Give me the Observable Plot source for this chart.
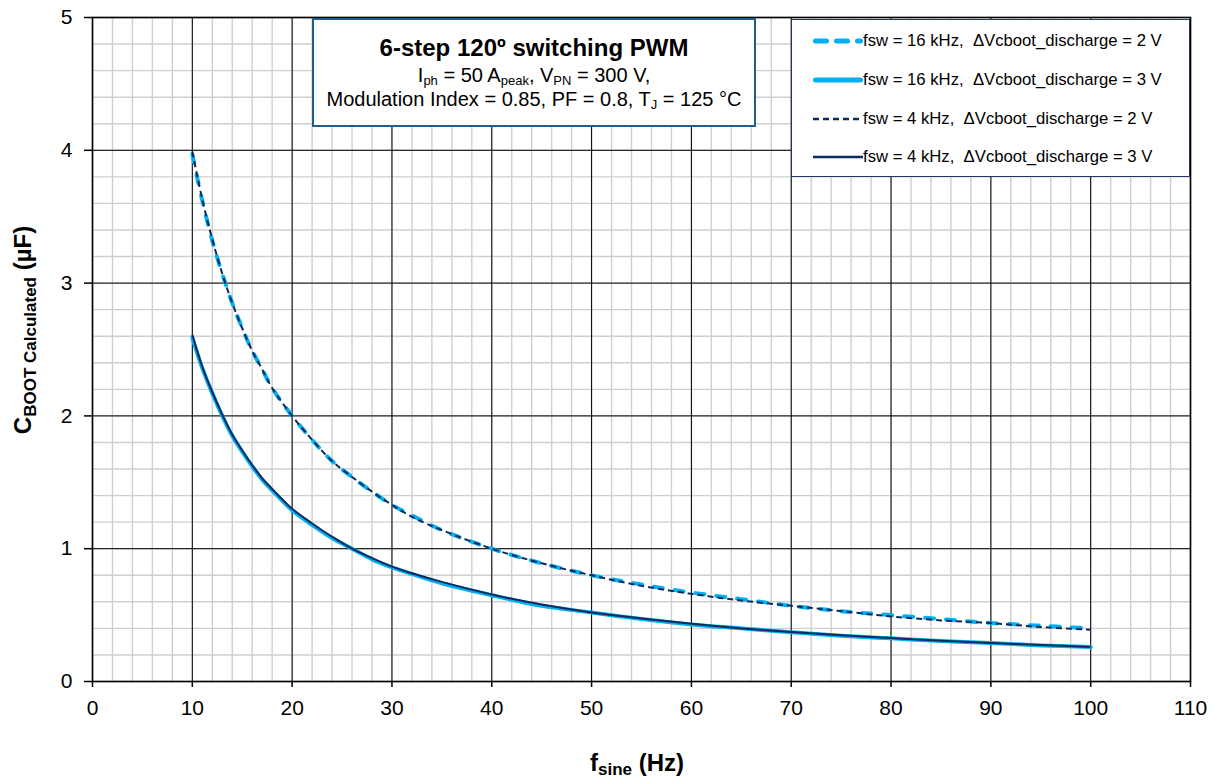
<!DOCTYPE html>
<html><head><meta charset="utf-8">
<script src="https://cdn.jsdelivr.net/npm/d3@7"></script>
<script src="https://cdn.jsdelivr.net/npm/@observablehq/plot@0.6"></script>
<style>
body{margin:0;background:#fff;font-family:"Liberation Sans",Arial,sans-serif;}
#wrap{position:relative;width:1225px;height:781px;}
.box{position:absolute;background:#fff;box-sizing:border-box;}
#note{left:312px;top:18px;width:444px;height:109px;border:2px solid #1f5f8f;text-align:center;color:#000;}
#note .t{font-weight:bold;font-size:24px;margin-top:14px;line-height:27px;margin-bottom:2.5px;}
#note .l{font-size:20px;line-height:22px;white-space:pre;}
#note .l3{margin-top:2px;}
#note sub{font-size:13px;vertical-align:baseline;position:relative;top:3px;line-height:0;}
#legend{left:791px;top:19px;width:399px;height:158px;border:1.5px solid #1f3864;}
.row{position:absolute;left:21px;height:20px;display:flex;align-items:center;font-size:16.7px;color:#000;white-space:pre;}
.row svg{margin-right:0px;display:block;}
</style></head>
<body><div id="wrap"></div>
<script>
const freq = [10,11,12,13,14,15,16,17,18,20,22,24,26,28,30,32,35,40,45,50,55,60,65,70,75,80,85,90,95,100];
const c16k2V = [3.97,3.62,3.32,3.07,2.85,2.66,2.49,2.35,2.21,2.00,1.82,1.66,1.54,1.43,1.33,1.25,1.14,1.00,0.89,0.80,0.73,0.67,0.62,0.57,0.53,0.50,0.47,0.44,0.42,0.40];
const c16k3V = [2.59,2.36,2.17,2.00,1.85,1.73,1.62,1.52,1.44,1.29,1.18,1.08,1.00,0.92,0.86,0.81,0.74,0.65,0.57,0.52,0.47,0.43,0.40,0.37,0.345,0.325,0.305,0.29,0.272,0.26];
const c4k2V  = [3.99,3.63,3.33,3.07,2.85,2.66,2.49,2.35,2.21,2.00,1.82,1.66,1.54,1.43,1.33,1.24,1.14,1.00,0.89,0.80,0.72,0.66,0.61,0.57,0.53,0.49,0.46,0.44,0.41,0.39];
const c4k3V  = [2.61,2.37,2.18,2.01,1.86,1.74,1.63,1.53,1.45,1.30,1.19,1.09,1.00,0.93,0.865,0.815,0.75,0.655,0.58,0.52,0.475,0.435,0.40,0.372,0.348,0.327,0.307,0.29,0.275,0.26];
const seriesNames = ["fsw = 16 kHz,  ΔVcboot_discharge = 2 V","fsw = 16 kHz,  ΔVcboot_discharge = 3 V","fsw = 4 kHz,  ΔVcboot_discharge = 2 V","fsw = 4 kHz,  ΔVcboot_discharge = 3 V"];
const seriesValues = [c16k2V, c16k3V, c4k2V, c4k3V];
const seriesColors = ["#00b0f0","#00b0f0","#0c2a5e","#0c2a5e"];
const seriesWidths = [4, 4, 2, 2];
const seriesDash = ["9,12", null, "6,4", null];
const seriesCaps = ["round", "round", "butt", "butt"];
const xTicks = [0,10,20,30,40,50,60,70,80,90,100,110];
const yTicks = [0,1,2,3,4,5];

const data = [];
seriesValues.forEach((vals, s) => freq.forEach((f, i) => data.push({s, f, v: vals[i]})));

const lines = seriesValues.map((_, s) => Plot.line(data.filter(d => d.s === s), {
  x: "f", y: "v", stroke: seriesColors[s], strokeWidth: seriesWidths[s],
  strokeDasharray: seriesDash[s], curve: "catmull-rom", strokeLinecap: seriesCaps[s]
}));

const plot = Plot.plot({
  width: 1225, height: 781,
  marginLeft: 92, marginRight: 35, marginTop: 17, marginBottom: 100,
  style: {fontFamily: "'Liberation Sans', Arial, sans-serif", fontSize: "21px", color: "#000", background: "#fff"},
  x: {domain: [0, 110]},
  y: {domain: [0, 5]},
  marks: [
    Plot.gridX(d3.range(0, 111, 2), {stroke: "#cfcfcf", strokeOpacity: 1, strokeWidth: 1.4}),
    Plot.gridY(d3.range(0, 5.01, 0.2), {stroke: "#cfcfcf", strokeOpacity: 1, strokeWidth: 1.4}),
    Plot.gridX(xTicks, {stroke: "#000", strokeOpacity: 1, strokeWidth: 1}),
    Plot.gridY(yTicks, {stroke: "#000", strokeOpacity: 1, strokeWidth: 1}),
    Plot.axisX(xTicks, {tickSize: 6, tickPadding: 13, label: null, fontSize: 21, strokeWidth: 1.5, tickFormat: d => String(d)}),
    Plot.axisY(yTicks, {tickSize: 8, tickPadding: 12, label: null, fontSize: 21, strokeWidth: 1.5, tickFormat: d => String(d)}),
    ...lines,
    Plot.frame({stroke: "#000", strokeWidth: 1.6})
  ]
});
const wrap = document.getElementById("wrap");
wrap.appendChild(plot);

// axis titles with subscripts
const svg = d3.select(plot);
const xt = svg.append("text").attr("x", 637).attr("y", 771).attr("text-anchor", "middle")
  .attr("font-weight", "bold").attr("font-size", 24).attr("fill", "#000");
xt.append("tspan").text("f");
xt.append("tspan").attr("font-size", 17).attr("dy", 4).text("sine");
xt.append("tspan").attr("dy", -4).text(" (Hz)");
const yt = svg.append("text").attr("transform", "translate(31,330) rotate(-90)").attr("text-anchor", "middle")
  .attr("font-weight", "bold").attr("font-size", 24).attr("fill", "#000");
yt.append("tspan").text("C");
yt.append("tspan").attr("font-size", 17).attr("dy", 5).text("BOOT Calculated");
yt.append("tspan").attr("dy", -5).text(" (µF)");

// annotation box
const note = document.createElement("div");
note.className = "box"; note.id = "note";
note.innerHTML = '<div class="t">6-step 120º switching PWM</div>' +
  '<div class="l">I<sub>ph</sub> = 50 A<sub>peak</sub>, V<sub>PN</sub> = 300 V,</div>' +
  '<div class="l l3">Modulation Index = 0.85, PF = 0.8, T<sub>J</sub> = 125 °C</div>';
wrap.appendChild(note);

// legend
const leg = document.createElement("div");
leg.className = "box"; leg.id = "legend";
const rowTops = [11, 50, 89, 127];
seriesNames.forEach((name, s) => {
  const r = document.createElement("div");
  r.className = "row"; r.style.top = rowTops[s] + "px";
  const dashes = ["11,10", null, "6,4", null];
  const dash = dashes[s] ? `stroke-dasharray="${dashes[s]}"` : "";
  const w = s < 2 ? 5 : 2.5;
  const pad = s < 2 ? 2.5 : 0;
  r.innerHTML = `<svg width="50" height="12"><line x1="${pad}" x2="${50 - pad}" y1="6" y2="6" stroke="${seriesColors[s]}" stroke-width="${w}" ${dash} stroke-linecap="${s < 2 ? 'round' : 'butt'}"/></svg><span>${name}</span>`;
  leg.appendChild(r);
});
wrap.appendChild(leg);
</script>
</body></html>
